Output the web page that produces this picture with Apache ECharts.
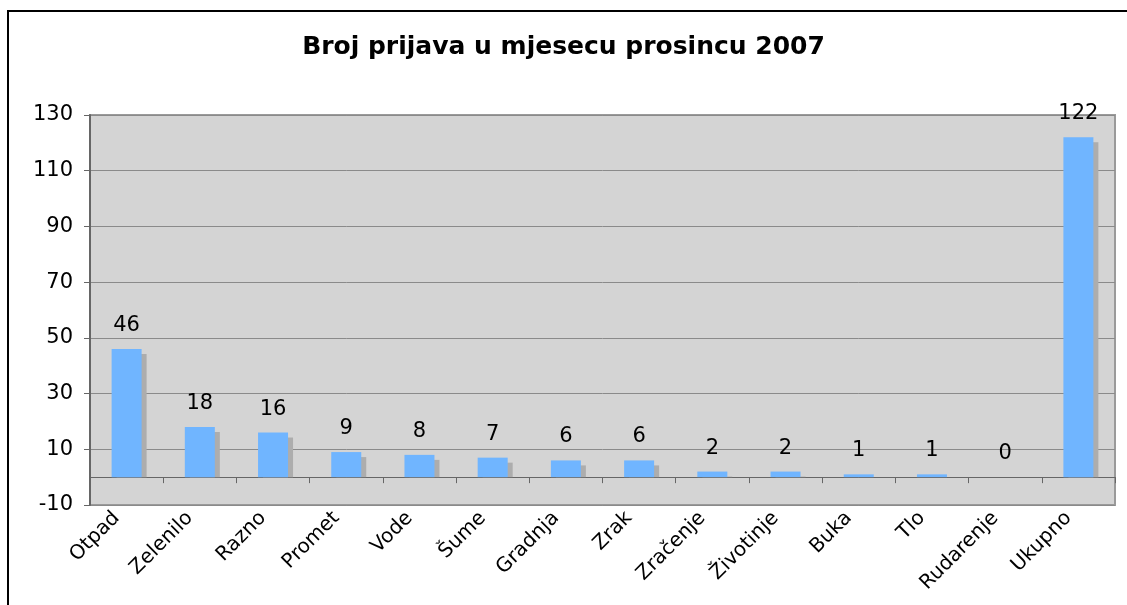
<!DOCTYPE html>
<html lang="hr">
<head>
<meta charset="UTF-8">
<title>Broj prijava u mjesecu prosincu 2007</title>
<script src="https://cdn.jsdelivr.net/npm/echarts@6/dist/echarts.min.js"></script>
<style>
  html, body { margin: 0; padding: 0; background: #fff; }
  #main { width: 1127px; height: 605px; }
</style>
</head>
<body>
<div id="main"></div>
<script>
var categories = ['Otpad', 'Zelenilo', 'Razno', 'Promet', 'Vode', 'Šume', 'Gradnja', 'Zrak',
                  'Zračenje', 'Životinje', 'Buka', 'Tlo', 'Rudarenje', 'Ukupno'];
var counts = [46, 18, 16, 9, 8, 7, 6, 6, 2, 2, 1, 1, 0, 122];
var yTicks = { min: -10, max: 130, step: 20 };

var chart = echarts.init(document.getElementById('main'));
var font = 'DejaVu Sans, Verdana, sans-serif';
var BAR_W = 30;

// drop shadow behind each bar, offset right/down, stopping at the zero line
function renderShadow(params, api) {
    var top = api.coord([api.value(0), api.value(1)]);
    var base = api.coord([api.value(0), 0]);
    var y = Math.min(top[1] + 5, base[1]);
    return {
        type: 'rect',
        shape: { x: top[0] - BAR_W / 2 + 5, y: y, width: BAR_W, height: base[1] - y },
        style: { fill: '#adadad' }
    };
}

var option = {
    backgroundColor: '#fff',
    animation: false,
    // outer frame (open on right and bottom like the original crop)
    graphic: [{
        type: 'rect',
        shape: { x: 8, y: 11, width: 1140, height: 620 },
        style: { fill: 'none', stroke: '#000', lineWidth: 2 },
        silent: true
    }],
    title: {
        text: 'Broj prijava u mjesecu prosincu 2007',
        left: 'center',
        top: 30,
        textStyle: { fontFamily: font, fontSize: 25, fontWeight: 'bold', color: '#000' }
    },
    grid: [{
        left: 90, top: 115, width: 1025, height: 390,
        show: true,
        backgroundColor: '#d4d4d4',
        borderColor: '#9a9a9a',
        borderWidth: 2
    }, {
        // label-only grid, nudged left so rotated names sit like the original
        left: 80, top: 115, width: 1025, height: 390,
        show: false
    }],
    xAxis: [{
        type: 'category',
        data: categories,
        axisLine: { onZero: true, lineStyle: { color: '#666', width: 1 } },
        axisTick: { show: true, length: 6, lineStyle: { color: '#666' } },
        axisLabel: { show: false }
    }, {
        type: 'category',
        gridIndex: 1,
        data: categories,
        position: 'bottom',
        axisLine: { show: false, onZero: false },
        axisTick: { show: false },
        axisLabel: {
            rotate: 45,
            margin: 10,
            fontFamily: font,
            fontSize: 20,
            color: '#000'
        }
    }],
    yAxis: [{
        type: 'value',
        min: yTicks.min,
        max: yTicks.max,
        interval: yTicks.step,
        axisLine: { show: true, lineStyle: { color: '#666', width: 2 } },
        axisTick: { show: true, length: 6, lineStyle: { color: '#666' } },
        axisLabel: { fontFamily: font, fontSize: 21, color: '#000', margin: 17 },
        splitLine: { lineStyle: { color: '#8a8a8a', width: 1 } }
    }, {
        type: 'value',
        gridIndex: 1,
        min: yTicks.min,
        max: yTicks.max,
        show: false
    }],
    series: [{
        type: 'custom',
        xAxisIndex: 0,
        yAxisIndex: 0,
        z: 1,
        renderItem: renderShadow,
        data: counts.map(function (v, i) { return [i, v]; }),
        silent: true
    }, {
        type: 'bar',
        xAxisIndex: 0,
        yAxisIndex: 0,
        z: 2,
        data: counts,
        barWidth: BAR_W,
        itemStyle: { color: '#70b5ff' },
        label: {
            show: true,
            position: 'top',
            distance: 13,
            fontFamily: font,
            fontSize: 21,
            color: '#000'
        }
    }]
};

chart.setOption(option);
</script>
</body>
</html>
